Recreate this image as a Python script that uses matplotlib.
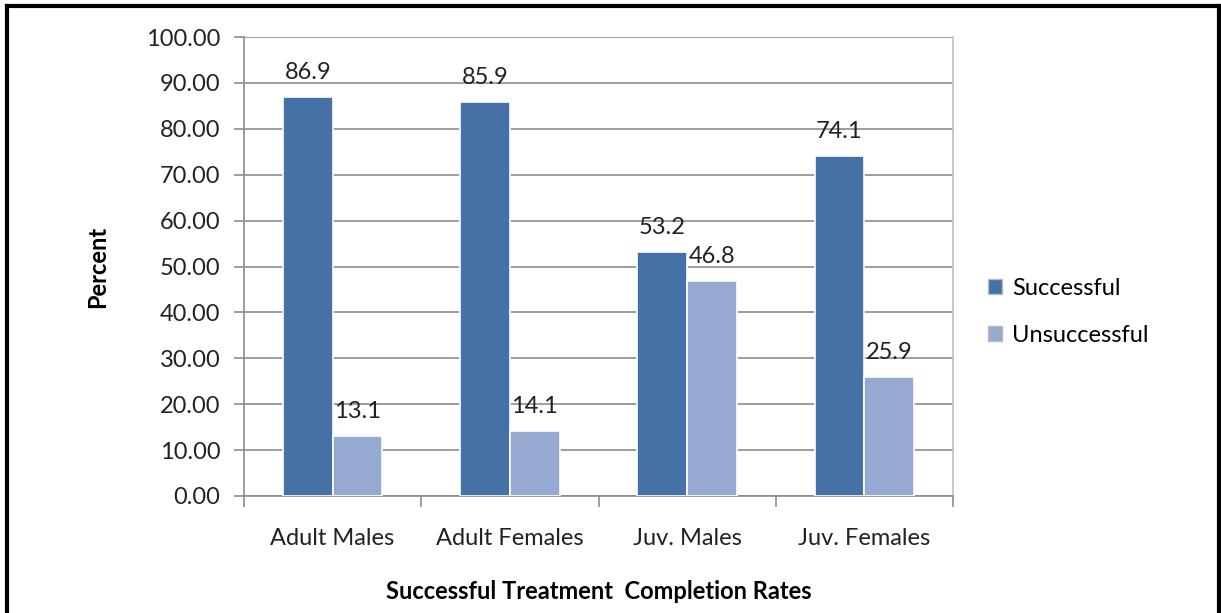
import numpy as np
import matplotlib
matplotlib.use("Agg")
import matplotlib.pyplot as plt
from matplotlib.lines import Line2D

plt.rcParams['font.family'] = ['Lato', 'DejaVu Sans']

# data
groups = ["Adult Males", "Adult Females", "Juv. Males", "Juv. Females"]
successful = [86.9, 85.9, 53.2, 74.1]
unsuccessful = [13.1, 14.1, 46.8, 25.9]
series_names = ["Successful", "Unsuccessful"]

dark_blue = "#4571A7"
light_blue = "#95A9D1"
grid_grey = "#8C8C8C"
fs = 17

fig = plt.figure(figsize=(12.21, 6.13), dpi=100)
ax = fig.add_axes([244/1221, 1 - 496/613, (953 - 244)/1221, (496 - 37)/613])

x = np.arange(len(groups))
w = 0.28
b1 = ax.bar(x - w/2, successful, w, color=dark_blue, edgecolor="white", linewidth=1.2,
            label=series_names[0], zorder=3)
b2 = ax.bar(x + w/2, unsuccessful, w, color=light_blue, edgecolor="white", linewidth=1.2,
            label=series_names[1], zorder=3)

for bars, vals in [(b1, successful), (b2, unsuccessful)]:
    for r, v in zip(bars, vals):
        ax.annotate(f"{v:.1f}", (r.get_x() + r.get_width()/2, v), xytext=(0, 10),
                    textcoords="offset points", ha="center", va="bottom",
                    fontsize=fs, color="#222222", zorder=4)

ax.set_xlim(-0.5, len(groups) - 0.5)
ax.set_ylim(0, 100)
ax.set_yticks(np.arange(0, 101, 10))
ax.set_yticklabels([f"{t:.2f}" for t in np.arange(0, 101, 10)])
ax.yaxis.grid(True, color=grid_grey, linewidth=1.2, zorder=0)
ax.set_axisbelow(True)

# category ticks at boundaries, labels in the middle
ax.set_xticks(np.arange(-0.5, len(groups)), minor=False)
ax.set_xticklabels([])
ax.set_xticks(x, minor=True)
ax.set_xticklabels(groups, minor=True)
ax.tick_params(axis="x", which="major", length=8, width=1.2, color=grid_grey)
ax.tick_params(axis="x", which="minor", length=0, pad=23, labelsize=fs, labelcolor="#222222")
ax.tick_params(axis="y", length=7, width=1.2, color=grid_grey, pad=10,
               labelsize=fs, labelcolor="#222222")

for s in ["left", "bottom"]:
    ax.spines[s].set_color(grid_grey)
    ax.spines[s].set_linewidth(1.2)
ax.spines["top"].set_visible(False)
ax.spines["right"].set_color("#C0C0C0")
ax.spines["right"].set_linewidth(1.2)

ax.set_ylabel("Percent", fontsize=fs, fontweight="bold")
ax.yaxis.set_label_coords((109 - 244)/709, 0.5)
ax.set_xlabel("Successful Treatment  Completion Rates", fontsize=fs, fontweight="bold")
ax.xaxis.set_label_coords(0.5, (496 - 580)/459)

leg = fig.legend(handles=[b1, b2], labels=series_names, loc="center left",
                 bbox_to_anchor=(967/1221, 1 - 312/613), frameon=False, fontsize=fs,
                 handlelength=0.6, handleheight=0.6, handletextpad=0.4, labelspacing=1.1)
for p in leg.get_patches():
    p.set_edgecolor("#BBBBBB")
    p.set_linewidth(1)

# outer frame
fig.add_artist(Line2D([7/1221, 7/1221], [0, 1 - 6/613], transform=fig.transFigure,
                      color="black", linewidth=3))
fig.add_artist(Line2D([7/1221, 1219/1221], [1 - 6/613, 1 - 6/613], transform=fig.transFigure,
                      color="black", linewidth=3))
fig.add_artist(Line2D([1219/1221, 1219/1221], [0, 1 - 6/613], transform=fig.transFigure,
                      color="black", linewidth=3))

fig.savefig("out.png", dpi=100, facecolor="white")
